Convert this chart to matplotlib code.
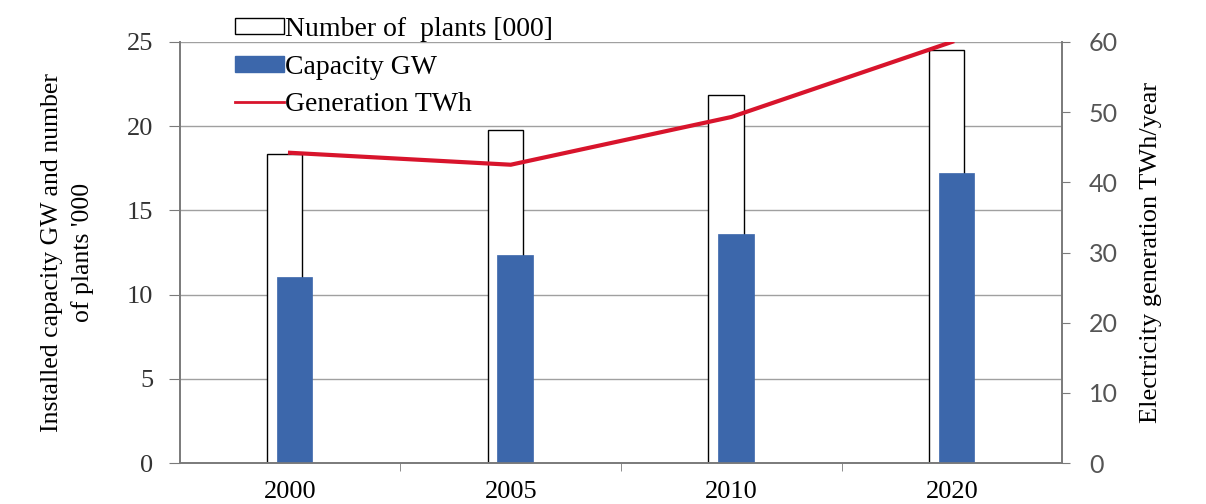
import matplotlib
matplotlib.use("Agg")
import matplotlib.pyplot as plt
import numpy as np
from matplotlib.patches import Patch
from matplotlib.lines import Line2D

years = ["2000", "2005", "2010", "2020"]
plants = [18.35, 19.75, 21.85, 24.5]      # number of plants '000
capacity = [11.05, 12.35, 13.6, 17.2]     # GW
generation = [44.2, 42.5, 49.3, 60.0]     # TWh/year

serif = "Liberation Serif"
blue = "#3c67ab"
red = "#d8142c"
grid_col = "#a0a0a0"
spine_col = "#7a7a7a"

fig = plt.figure(figsize=(12.06, 5.04), dpi=100)
ax = fig.add_axes([0.149, 0.081, 0.732, 0.836])
x = np.arange(len(years))

ax.bar(x - 0.025, plants, width=0.16, color="white", edgecolor="black", linewidth=1.0, zorder=2)
ax.bar(x + 0.02, capacity, width=0.16, color=blue, edgecolor=blue, linewidth=0.5, zorder=3)

ax.set_xlim(-0.5, 3.5)
ax.set_ylim(0, 25)
ax.set_yticks(np.arange(0, 26, 5))
ax.set_yticklabels([str(v) for v in range(0, 26, 5)], fontfamily=serif, fontsize=19, color="#333333")
ax.set_xticks(x)
ax.set_xticklabels(years, fontfamily=serif, fontsize=19)
ax.set_xticks([0.5, 1.5, 2.5], minor=True)
ax.tick_params(axis="x", which="major", length=0, pad=13)
ax.tick_params(axis="x", which="minor", length=6, direction="out", color=spine_col)
ax.tick_params(axis="y", length=8, direction="out", color=spine_col, pad=11)
ax.yaxis.grid(True, color=grid_col, linewidth=1.0, zorder=0)
ax.set_axisbelow(True)
ax.spines["top"].set_visible(False)
for s in ["left", "right", "bottom"]:
    ax.spines[s].set_color(spine_col)
    ax.spines[s].set_linewidth(1.2)
ax.set_ylabel("Installed capacity GW and number\nof plants '000", fontfamily=serif,
              fontsize=18.5, linespacing=1.45, labelpad=24)

ax2 = ax.twinx()
ax2.plot(x, generation, color=red, linewidth=3, zorder=5)
ax2.set_ylim(0, 60)
ax2.set_yticks(np.arange(0, 61, 10))
ax2.set_yticklabels([str(v) for v in range(0, 61, 10)], fontfamily="Lato", fontsize=18, color="#555555")
ax2.tick_params(axis="y", length=6, direction="out", color=spine_col, pad=13)
ax2.spines["top"].set_visible(False)
for s in ["left", "right", "bottom"]:
    ax2.spines[s].set_color(spine_col)
    ax2.spines[s].set_linewidth(1.2)
ax2.set_ylabel("Electricity generation TWh/year", fontfamily=serif, fontsize=19, labelpad=16)

handles = [
    Patch(facecolor="white", edgecolor="black", linewidth=1.0),
    Patch(facecolor=blue, edgecolor=blue),
    Line2D([0], [0], color=red, linewidth=2),
]
labels = ["Number of  plants [000]", "Capacity GW", "Generation TWh"]
leg = ax2.legend(handles, labels, loc="upper left", bbox_to_anchor=(0.05, 1.085),
                 frameon=False, prop={"family": serif, "size": 20},
                 handlelength=1.75, handleheight=0.5, handletextpad=0.05, labelspacing=0.45,
                 borderaxespad=0)

fig.savefig("out.png", dpi=100)
